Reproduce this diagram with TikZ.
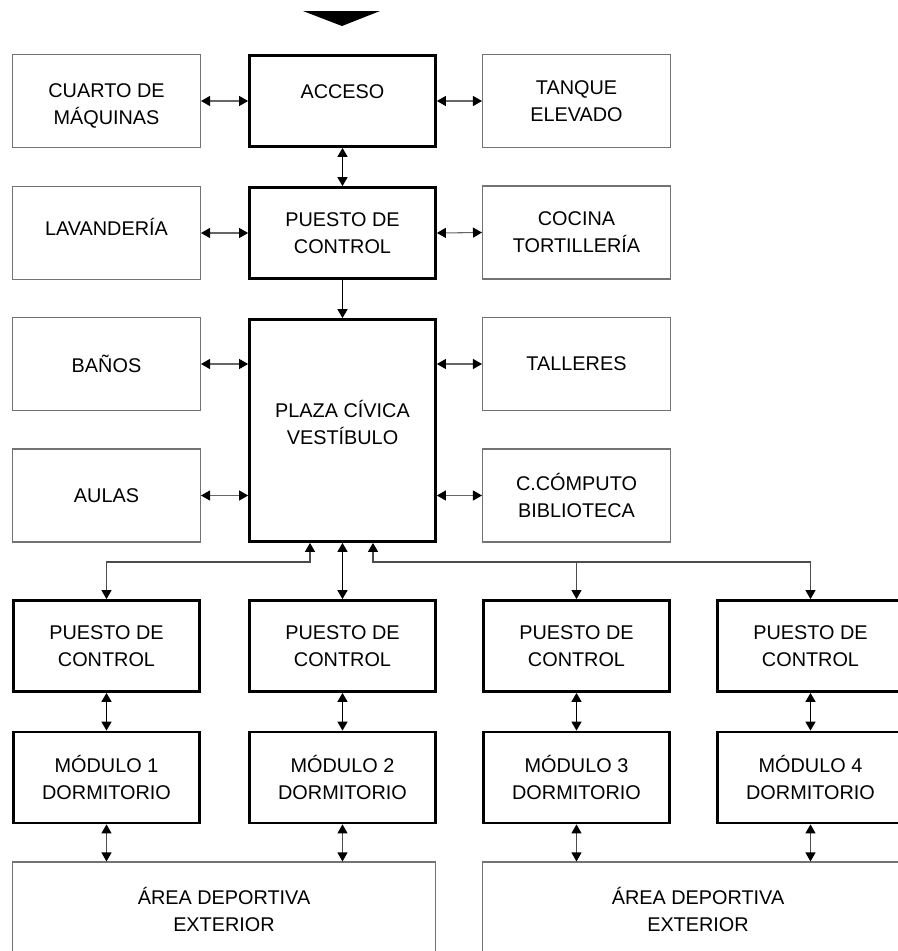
\documentclass[tikz,border=0pt]{standalone}
\usepackage{fontspec}
\setmainfont{Liberation Sans}
\usetikzlibrary{arrows.meta}
\begin{document}
\begin{tikzpicture}[x=0.02cm,y=-0.02cm,
  thickbox/.style={draw=black,line width=1.6pt,minimum width=3.72cm,minimum height=1.82cm,
    inner sep=0pt,align=center,font=\fontsize{11.3}{15.3}\selectfont,text=black},
  thinbox/.style={thickbox,draw=black!55,line width=0.6pt,minimum width=3.76cm,minimum height=1.86cm},
  conn/.style={line width=0.9pt,{Triangle[length=0.18cm,width=0.2cm]}-{Triangle[length=0.18cm,width=0.2cm]}},
  conndown/.style={line width=0.9pt,-{Triangle[length=0.18cm,width=0.2cm]}},
  sideconn/.style={draw=black!60,line width=0.6pt,{Triangle[length=0.18cm,width=0.2cm,color=black]}-{Triangle[length=0.18cm,width=0.2cm,color=black]}},
  branch/.style={draw=black!70,line width=0.6pt,{Triangle[length=0.18cm,width=0.2cm,color=black]}-{Triangle[length=0.18cm,width=0.2cm,color=black]}},
  branchdown/.style={draw=black!70,line width=0.6pt,-{Triangle[length=0.18cm,width=0.2cm,color=black]}}]
\useasboundingbox (0,0) rectangle (898,951);

% entry marker
\fill[black] (303,11) -- (380,11) -- (342,26) -- cycle;

% row 1
\node[thinbox]  (cuarto) at (106.5,101) {\raisebox{-0.1cm}[\height][\depth]{\begin{tabular}{@{}c@{}}CUARTO DE\\MÁQUINAS\end{tabular}}};
\node[thickbox] (acceso) at (342.5,101) {\raisebox{0.18cm}[\height][\depth]{ACCESO}};
\node[thinbox]  (tanque) at (576.5,101) {TANQUE\\ELEVADO};
% row 2
\node[thinbox]  (lav) at (106.5,233) {\raisebox{0.12cm}[\height][\depth]{LAVANDERÍA}};
\node[thickbox] (pc0) at (342.5,233) {PUESTO DE\\CONTROL};
\node[thinbox]  (cocina) at (576.5,232.5) {COCINA\\TORTILLERÍA};
% rows 3-4
\node[thinbox]  (banos) at (106.5,364) {BAÑOS};
\node[thickbox,minimum height=4.44cm] (plaza) at (342.5,430.5) {\raisebox{0.09cm}[\height][\depth]{\begin{tabular}{@{}c@{}}PLAZA CÍVICA\\VESTÍBULO\end{tabular}}};
\node[thinbox]  (talleres) at (576.5,364) {TALLERES};
\node[thinbox]  (aulas) at (106.5,495.5) {AULAS};
\node[thinbox]  (comp) at (576.5,495.5) {C.CÓMPUTO\\BIBLIOTECA};

% control posts
\node[thickbox] (pc1) at (106.5,646) {PUESTO DE\\CONTROL};
\node[thickbox] (pc2) at (342.5,646) {PUESTO DE\\CONTROL};
\node[thickbox] (pc3) at (576.5,646) {PUESTO DE\\CONTROL};
\node[thickbox] (pc4) at (810.5,646) {PUESTO DE\\CONTROL};
% modules
\node[thickbox] (m1) at (106.5,777.5) {MÓDULO 1\\DORMITORIO};
\node[thickbox] (m2) at (342.5,777.5) {MÓDULO 2\\DORMITORIO};
\node[thickbox] (m3) at (576.5,777.5) {MÓDULO 3\\DORMITORIO};
\node[thickbox] (m4) at (810.5,777.5) {MÓDULO 4\\DORMITORIO};
% sports areas
\node[thinbox,minimum width=8.48cm,minimum height=2.8cm] (area1) at (224,932)
  {\raisebox{0.38cm}[\height][\depth]{\begin{tabular}{@{}c@{}}ÁREA DEPORTIVA\\EXTERIOR\end{tabular}}};
\node[thinbox,minimum width=8.64cm,minimum height=2.8cm] (area2) at (698,932)
  {\raisebox{0.38cm}[\height][\depth]{\begin{tabular}{@{}c@{}}ÁREA DEPORTIVA\\EXTERIOR\end{tabular}}};

% side connectors
\draw[sideconn] (cuarto.east) -- (acceso.west);
\draw[sideconn] (acceso.east) -- (tanque.west);
\draw[sideconn] (lav.east) -- (pc0.west);
\draw[sideconn] (pc0.east) -- (cocina.west);
\draw[sideconn] (banos.east) -- (plaza.west |- banos.east);
\draw[sideconn] (plaza.east |- talleres.west) -- (talleres.west);
\draw[sideconn] (aulas.east) -- (plaza.west |- aulas.east);
\draw[sideconn] (plaza.east |- comp.west) -- (comp.west);

% central spine
\draw[conn] (acceso.south) -- (pc0.north);
\draw[conndown] (pc0.south) -- (plaza.north);
\draw[conn] (plaza.south) -- (pc2.north);

% branches
\coordinate (jl) at (310,562);
\coordinate (jr) at (373,562);
\draw[branch] (pc1.north) |- (jl) -- (jl |- plaza.south);
\draw[branch] (jr |- plaza.south) -- (jr) -| (pc4.north);
\draw[branchdown] (pc3.north |- jr) -- (pc3.north);

% posts to modules
\draw[conn] (pc1.south) -- (m1.north);
\draw[conn] (pc2.south) -- (m2.north);
\draw[conn] (pc3.south) -- (m3.north);
\draw[conn] (pc4.south) -- (m4.north);
% modules to sports areas
\draw[branch] (m1.south) -- (m1.south |- area1.north);
\draw[branch] (m2.south) -- (m2.south |- area1.north);
\draw[branch] (m3.south) -- (m3.south |- area2.north);
\draw[branch] (m4.south) -- (m4.south |- area2.north);
\end{tikzpicture}
\end{document}
